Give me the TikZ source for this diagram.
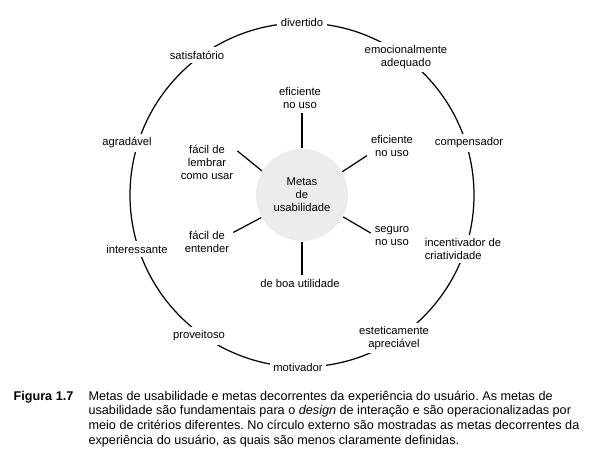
\documentclass[tikz,border=0pt]{standalone}
\usepackage{fontspec}
\setmainfont{Liberation Sans}
\usetikzlibrary{positioning}
\newcommand{\lblfont}{\fontsize{6.4}{7.4}\selectfont}
\newcommand{\capfont}{\fontsize{7.2}{8.5}\selectfont}

\begin{document}
\frenchspacing
\begin{tikzpicture}[x=0.02cm, y=-0.02cm, line width=0.7pt,
    outer/.style={fill=white, inner sep=2pt, align=center, font=\lblfont},
    inner/.style={inner sep=2pt, align=center, font=\lblfont}]
    \path[fill=white, use as bounding box] (0,0) rectangle (606,465);

    % outer ring
    \draw (302,195) circle[radius=172];
    \node[outer] (divertido) at (302,22) {divertido};
    \node[outer] (emocional) at (406,57) {emocionalmente\\adequado};
    \node[outer] (compensador) at (469,143) {compensador};
    \node[outer, align=left] (incentivador) at (463,249) {incentivador de\\criatividade};
    \node[outer] (estetica) at (394,338) {esteticamente\\apreciável};
    \node[outer] (motivador) at (298,367) {motivador};
    \node[outer] (proveitoso) at (199,336) {proveitoso};
    \node[outer] (interessante) at (137,249) {interessante};
    \node[outer] (agradavel) at (127,143) {agradável};
    \node[outer] (satisfatorio) at (197,55) {satisfatório};

    % inner goals
    \node[circle, fill=gray!15, minimum size=1.84cm, inner sep=0pt, align=center, font=\lblfont] (metas) at (302,195) {Metas\\de\\usabilidade};
    \node[inner] (efftop) at (300,98) {eficiente\\no uso};
    \node[inner] (effright) at (392,146) {eficiente\\no uso};
    \node[inner] (seguro) at (392,236) {seguro\\no uso};
    \node[inner] (utilidade) at (300,283) {de boa utilidade};
    \node[inner] (entender) at (207,242) {fácil de\\entender};
    \node[inner] (lembrar) at (207,162) {fácil de\\lembrar\\como usar};

    \draw (metas.90) -- (efftop.south -| metas.90);
    \draw (metas.30) -- (effright.201);
    \draw (metas.-28) -- (seguro.172);
    \draw (metas.-90) -- (utilidade.north -| metas.-90);
    \draw (metas.209) -- (entender.20);
    \draw (metas.149) -- (lembrar.20);

    % caption
    \node[anchor=north west, inner sep=0pt, font=\capfont] (caption) at (13,389) {%
        \begin{tabular}{@{}p{1.5cm}@{}l@{}}
        \textbf{Figura 1.7} & Metas de usabilidade e metas decorrentes da experiência do usuário. As metas de\\
        & usabilidade são fundamentais para o \emph{design} de interação e são operacionalizadas por\\
        & meio de critérios diferentes. No círculo externo são mostradas as metas decorrentes da\\
        & experiência do usuário, as quais são menos claramente definidas.
        \end{tabular}};
\end{tikzpicture}
\end{document}
